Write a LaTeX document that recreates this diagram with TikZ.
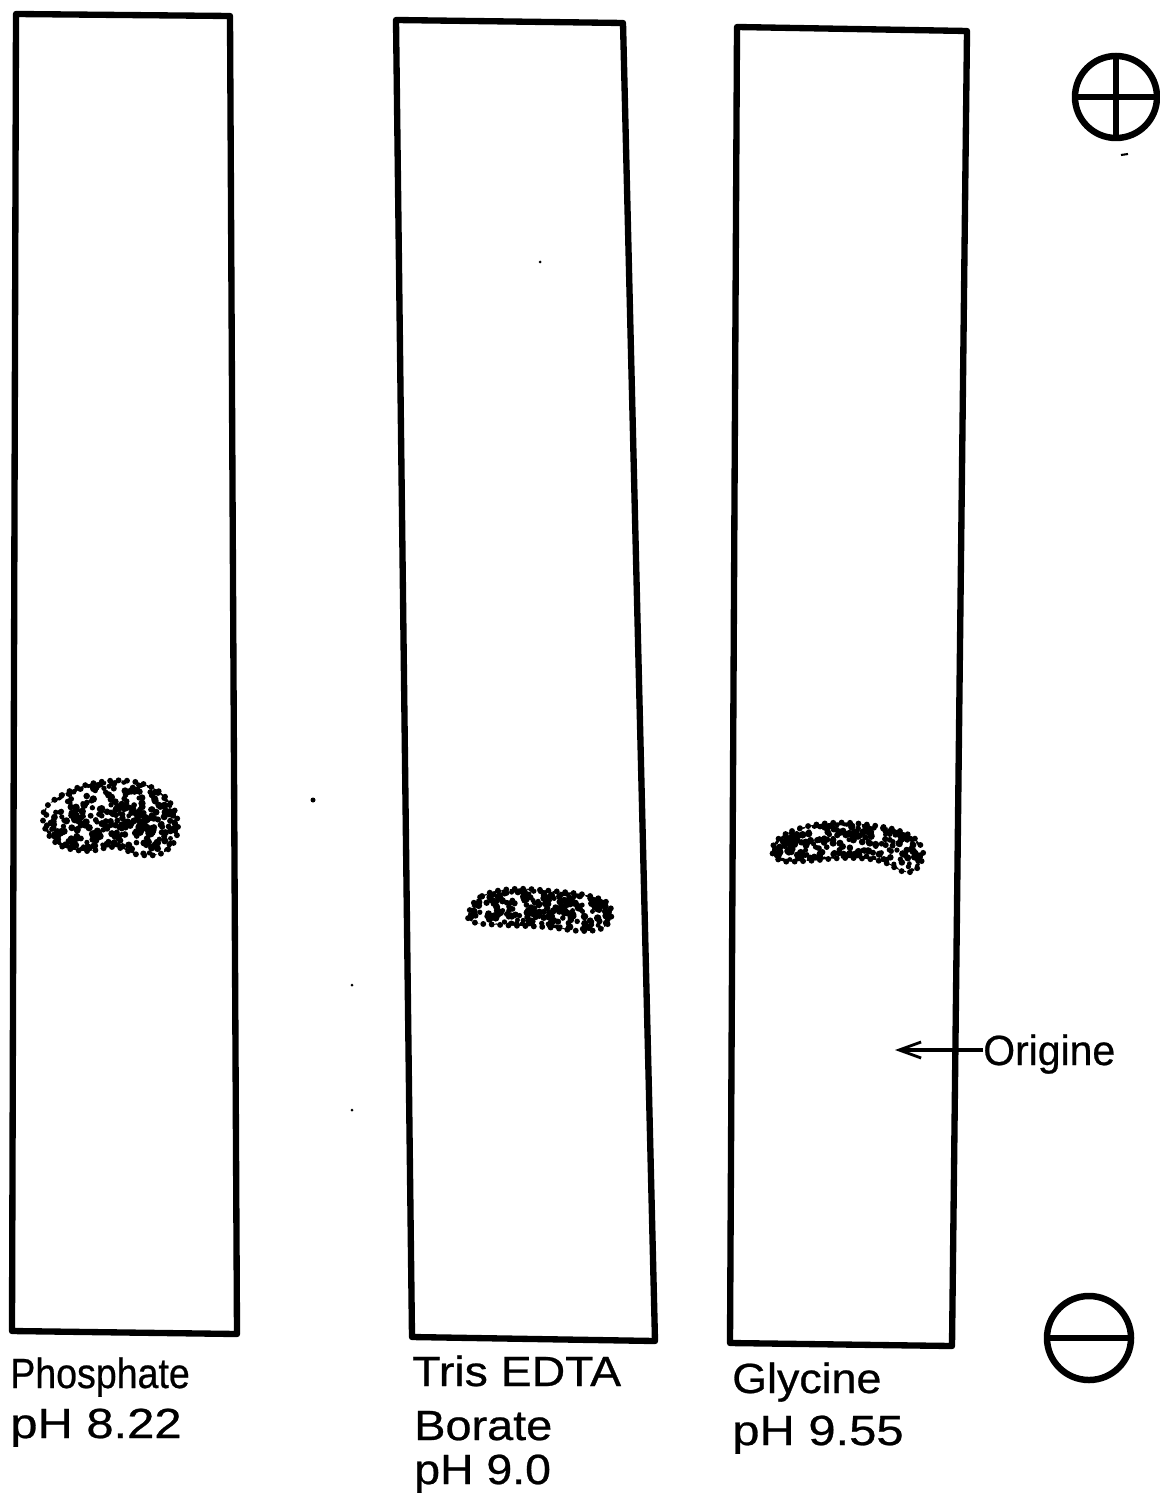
\documentclass[tikz,border=0pt]{standalone}
\usepackage{fontspec}
\usepackage{graphicx}
\setmainfont{Liberation Sans}
\usetikzlibrary{arrows.meta}
\newcommand{\sxtext}[2]{\scalebox{#1}[1]{#2}}
\begin{document}
\begin{tikzpicture}[x=0.025cm,y=-0.025cm,
  strip/.style={line width=4.5pt,line join=round,line cap=round},
  pole/.style={line width=4.6pt},
  lbl/.style={font=\fontsize{30}{33}\selectfont\addfontfeature{FakeBold=0.6},inner sep=0pt,anchor=base west},
  spotedge/.style={line width=4.2pt,line cap=round,dash pattern=on 0pt off 6pt}]
\useasboundingbox (0,0) rectangle (1159,1497);
\fill[white] (0,0) rectangle (1159,1497);
% strip corners
\coordinate (a1) at (16,14); \coordinate (a2) at (230,16);
\coordinate (a3) at (237,1334); \coordinate (a4) at (12,1331);
\coordinate (b1) at (396,20); \coordinate (b2) at (623,23);
\coordinate (b3) at (655,1341); \coordinate (b4) at (412,1337);
\coordinate (c1) at (737,27); \coordinate (c2) at (967,31);
\coordinate (c3) at (952,1346); \coordinate (c4) at (730,1343);
\draw[strip] (a1) -- (a2) -- (a3) -- (a4) -- cycle;
\draw[strip] (b1) -- (b2) -- (b3) -- (b4) -- cycle;
\draw[strip] (c1) -- (c2) -- (c3) -- (c4) -- cycle;
% poles
\node[circle,draw,pole,minimum size=2.05cm,inner sep=0pt] (plus) at (1116,97) {};
\draw[pole] (plus.north) -- (plus.south);
\draw[pole] (plus.west) -- (plus.east);
\node[circle,draw,pole,minimum size=2.1cm,inner sep=0pt] (minus) at (1089,1338) {};
\draw[pole] (minus.west) -- (minus.east);
% spots
\pgfmathsetseed{7}
\def\blobA{plot[smooth cycle,tension=0.7] coordinates {(43,815) (62,795) (100,782) (140,783) (168,800) (178,828) (166,851) (140,855) (115,847) (85,851) (55,842)}}
\def\blobB{plot[smooth cycle,tension=0.7] coordinates {(469,912) (482,896) (512,889) (552,891) (590,896) (610,906) (607,925) (585,931) (545,927) (502,925) (473,922)}}
\def\blobC{plot[smooth cycle,tension=0.7] coordinates {(773,846) (792,831) (830,823) (870,825) (905,833) (922,848) (919,866) (905,872) (880,861) (845,858) (806,861) (779,860)}}
\begin{scope}
\clip \blobA;
\foreach \i in {1,...,430}{\fill (40+140*rnd,780+78*rnd) circle (2.4+1.4*rnd);}
\end{scope}
\draw[spotedge] \blobA;
\begin{scope}
\clip \blobB;
\foreach \i in {1,...,330}{\fill (466+148*rnd,886+48*rnd) circle (2.4+1.4*rnd);}
\end{scope}
\draw[spotedge] \blobB;
\begin{scope}
\clip \blobC;
\foreach \i in {1,...,370}{\fill (770+155*rnd,820+55*rnd) circle (2.4+1.4*rnd);}
\end{scope}
\draw[spotedge] \blobC;
% origin marker
\node[lbl,anchor=base west] (orig) at (983,1065) {\sxtext{0.97}{Origine}};
\coordinate (origtip) at (895,1050);
\draw[line width=2.2pt,-{Straight Barb[length=0.55cm,width=0.4cm,line width=2pt]}] (orig.west |- origtip) -- (origtip);
% labels
\node[lbl] (l1a) at (10,1388) {\sxtext{0.89}{Phosphate}};
\node[lbl] (l1b) at (10,1438) {\sxtext{1.16}{pH 8.22}};
\node[lbl] (l2a) at (412,1386) {\sxtext{1.10}{Tris EDTA}};
\node[lbl] (l2b) at (414,1440) {\sxtext{1.11}{Borate}};
\node[lbl] (l2c) at (414,1484) {\sxtext{1.10}{pH 9.0}};
\node[lbl] (l3a) at (732,1393) {\sxtext{1.06}{Glycine}};
\node[lbl] (l3b) at (732,1445) {\sxtext{1.16}{pH 9.55}};
% stray marks
\fill (313,800) circle (2.5);
\fill (540,262) circle (1.5);
\fill (352,985) circle (1.5);
\fill (352,1110) circle (1.5);
\draw[line width=1.5pt] (1121,155) -- (1128,154);
\end{tikzpicture}
\end{document}
